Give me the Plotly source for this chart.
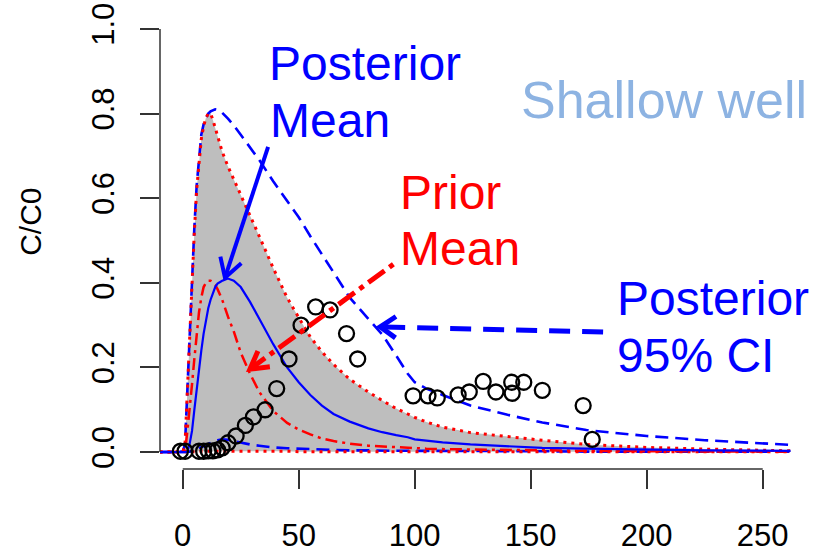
import math
import plotly.graph_objects as go

# ---- breakthrough curve data (time vs. relative concentration C/C0) ----
t_grid = [-10, 0, 1, 2, 3, 4, 5, 6, 7, 8, 9, 10, 11, 12, 13, 14, 15, 17, 19.5, 22,
          25, 29, 33, 39, 45, 50, 55, 60, 65, 72, 80, 86, 92, 97, 100, 105, 112,
          124, 140, 155, 174, 200, 225, 262]

# prior 95% interval (shaded band, red dotted bounds)
prior_upper = [0, 0, 0.02, 0.15, 0.28, 0.40, 0.52, 0.62, 0.69, 0.74, 0.77, 0.79, 0.80, 0.80,
               0.785, 0.765, 0.745, 0.71, 0.675, 0.645, 0.605, 0.56, 0.51, 0.435, 0.365, 0.318,
               0.272, 0.237, 0.207, 0.172, 0.142, 0.122, 0.103, 0.09, 0.082, 0.071, 0.059,
               0.046, 0.036, 0.028, 0.018, 0.011, 0.007, 0.003]
prior_lower = [0, 0, 0, 0, 0, 0, 0.001, 0.001, 0.002, 0.002, 0.002, 0.003, 0.003, 0.003,
               0.003, 0.003, 0.003, 0.003, 0.003, 0.003, 0.003, 0.002, 0.002, 0.002, 0.002,
               0.001, 0.001, 0.001, 0.001, 0.001, 0.001, 0.001, 0.001, 0.001, 0.001, 0.001,
               0.001, 0.001, 0.001, 0.001, 0.001, 0.001, 0.001, 0.001]
# prior mean (red dash-dot)
prior_mean = [0, 0, 0, 0.05, 0.10, 0.16, 0.22, 0.28, 0.33, 0.365, 0.39, 0.40, 0.405, 0.405,
              0.40, 0.395, 0.385, 0.36, 0.32, 0.285, 0.235, 0.185, 0.142, 0.097, 0.069, 0.053,
              0.042, 0.032, 0.026, 0.02, 0.015, 0.013, 0.011, 0.01, 0.009, 0.008, 0.007,
              0.006, 0.005, 0.004, 0.003, 0.002, 0.0015, 0.001]

# posterior mean (blue solid) and 95% interval (blue dashed)
post_mean = [0, 0, 0, 0, 0.02, 0.05, 0.10, 0.15, 0.20, 0.24, 0.28, 0.31, 0.34, 0.36, 0.375,
             0.39, 0.398, 0.405, 0.41, 0.405, 0.39, 0.355, 0.315, 0.255, 0.20, 0.165, 0.135,
             0.11, 0.09, 0.072, 0.056, 0.047, 0.04, 0.035, 0.03, 0.027, 0.023, 0.018, 0.013,
             0.01, 0.008, 0.006, 0.004, 0.003]
post_upper = [0, 0, 0.02, 0.15, 0.29, 0.42, 0.53, 0.63, 0.70, 0.75, 0.775, 0.79, 0.80, 0.805,
              0.808, 0.81, 0.809, 0.802, 0.788, 0.772, 0.75, 0.72, 0.69, 0.64, 0.595, 0.555,
              0.51, 0.468, 0.425, 0.365, 0.315, 0.278, 0.228, 0.185, 0.165, 0.15, 0.135, 0.11,
              0.088, 0.07, 0.052, 0.038, 0.028, 0.017]
post_lower = [0, 0, 0, 0, 0.001, 0.003, 0.005, 0.008, 0.01, 0.012, 0.014, 0.016, 0.019,
              0.022, 0.025, 0.027, 0.028, 0.03, 0.029, 0.026, 0.022, 0.018, 0.015, 0.011,
              0.009, 0.008, 0.007, 0.006, 0.005, 0.004, 0.004, 0.003, 0.003, 0.003, 0.003,
              0.003, 0.002, 0.002, 0.002, 0.002, 0.001, 0.001, 0.001, 0.001]

# observed concentrations in the shallow well
obs_t = [-1, 1, 7, 9, 11, 13, 15, 17, 19.5, 23, 27, 30.5, 35.5, 40.5, 45.8, 51, 57.3,
         63.5, 70.6, 75.4, 99.3, 105.7, 109.7, 118.7, 123.5, 129.5, 135, 141.8, 142,
         147, 155, 172.6, 176.5]
obs_c = [0.002, 0.002, 0.002, 0.002, 0.003, 0.003, 0.005, 0.01, 0.022, 0.038, 0.063,
         0.083, 0.1, 0.15, 0.22, 0.30, 0.343, 0.336, 0.28, 0.22, 0.133, 0.133, 0.128,
         0.135, 0.142, 0.167, 0.142, 0.165, 0.139, 0.165, 0.146, 0.11, 0.03]

x_ticks = [0, 50, 100, 150, 200, 250]
y_ticks = [0.0, 0.2, 0.4, 0.6, 0.8, 1.0]
y_tick_text = ["0.0", "0.2", "0.4", "0.6", "0.8", "1.0"]

BLUE = "#0000FF"
RED = "#FF0000"
FONT = "Liberation Sans, Arial, sans-serif"

# ---- page geometry ----
W, H = 817, 556
ML, MR, MT, MB = 160, 3, 9.5, 81.5
X_RANGE = [-9.8, 272.1]
Y_RANGE = [-0.04, 1.04]
SX = (W - ML - MR) / (X_RANGE[1] - X_RANGE[0])   # px per x unit
SY = (H - MT - MB) / (Y_RANGE[1] - Y_RANGE[0])   # px per y unit

fig = go.Figure()

# shaded prior band
fig.add_trace(go.Scatter(x=t_grid, y=prior_lower, mode="lines",
                         line=dict(width=0), hoverinfo="skip", showlegend=False))
fig.add_trace(go.Scatter(x=t_grid, y=prior_upper, mode="lines", fill="tonexty",
                         fillcolor="#BEBEBE", line=dict(width=0),
                         hoverinfo="skip", showlegend=False))

# posterior interval
for ys in (post_upper, post_lower):
    fig.add_trace(go.Scatter(x=t_grid, y=ys, mode="lines", showlegend=False,
                             line=dict(color=BLUE, width=2.6, dash="13px,7px")))
# prior interval bounds
for ys in (prior_upper, prior_lower):
    fig.add_trace(go.Scatter(x=t_grid, y=ys, mode="lines", showlegend=False,
                             line=dict(color=RED, width=3, dash="3px,5px")))
# prior mean
fig.add_trace(go.Scatter(x=t_grid, y=prior_mean, mode="lines", showlegend=False,
                         line=dict(color=RED, width=2.5, dash="3px,5px,12px,5px")))
# posterior mean
fig.add_trace(go.Scatter(x=t_grid, y=post_mean, mode="lines", showlegend=False,
                         line=dict(color=BLUE, width=2.2)))
# observations
fig.add_trace(go.Scatter(x=obs_t, y=obs_c, mode="markers", showlegend=False,
                         marker=dict(symbol="circle-open", size=15, color="black",
                                     line=dict(color="black", width=2.3))))

shapes = []
# R-style axis lines spanning only the tick range
shapes.append(dict(type="line", xref="paper", yref="y", x0=0, x1=0,
                   y0=y_ticks[0], y1=y_ticks[-1], line=dict(color="#333333", width=1.5)))
shapes.append(dict(type="line", xref="x", yref="paper", x0=x_ticks[0], x1=x_ticks[-1],
                   y0=0, y1=0, line=dict(color="#333333", width=1.5)))


def arrow(x0, y0, x1, y1, color, width, dash, head_len, head_ang=30):
    """Shaft from (x0, y0) to the tip (x1, y1) plus an open V head."""
    shapes.append(dict(type="line", xref="x", yref="y", x0=x0, y0=y0, x1=x1, y1=y1,
                       line=dict(color=color, width=width, dash=dash)))
    dx, dy = (x0 - x1) * SX, (y0 - y1) * SY
    n = math.hypot(dx, dy)
    ux, uy = dx / n, dy / n
    pts = []
    for s in (1, -1):
        a = math.radians(head_ang) * s
        rx = ux * math.cos(a) - uy * math.sin(a)
        ry = ux * math.sin(a) + uy * math.cos(a)
        pts.append((x1 + rx * head_len / SX, y1 + ry * head_len / SY))
    path = "M{:.4f},{:.5f} L{:.4f},{:.5f} L{:.4f},{:.5f}".format(
        pts[0][0], pts[0][1], x1, y1, pts[1][0], pts[1][1])
    shapes.append(dict(type="path", xref="x", yref="y", path=path,
                       line=dict(color=color, width=width)))


arrow(36.8, 0.721, 18.2, 0.412, BLUE, 4, "solid", 22)
arrow(90.8, 0.444, 29.0, 0.196, RED, 5, "5px,6px,20px,6px", 20)
arrow(181.2, 0.284, 85.1, 0.296, BLUE, 5, "21px,12px", 19, 35)

annotations = []


def label(text, x, y, color, size):
    annotations.append(dict(text=text, x=x, y=y, xref="x", yref="y", xanchor="left",
                            yanchor="middle", showarrow=False,
                            font=dict(family=FONT, size=size, color=color)))


label("Posterior", 36.2, 0.918, BLUE, 48)
label("Mean", 36.6, 0.783, BLUE, 48)
label("Shallow well", 145.0, 0.832, "#8DB3E2", 52)
label("Prior", 92.6, 0.614, RED, 48)
label("Mean", 92.6, 0.482, RED, 48)
label("Posterior", 186.4, 0.362, BLUE, 48)
label("95% CI", 186.4, 0.228, BLUE, 48)

# y-axis title
annotations.append(dict(text="C/C0", xref="paper", yref="paper",
                        x=(31 - ML) / (W - ML - MR), y=(H - MB - 223) / (H - MT - MB),
                        xanchor="center", yanchor="middle", textangle=-90,
                        showarrow=False, font=dict(family=FONT, size=30, color="black")))

fig.update_layout(
    width=W, height=H,
    margin=dict(l=ML, r=MR, t=MT, b=MB, pad=0),
    paper_bgcolor="white", plot_bgcolor="white",
    font=dict(family=FONT, color="black"),
    shapes=shapes, annotations=annotations,
    xaxis=dict(range=X_RANGE, tickvals=x_ticks, ticks="outside", ticklen=19,
               tickwidth=1.5, tickcolor="#333333", showline=False, showgrid=False,
               zeroline=False, tickfont=dict(family=FONT, size=31, color="black"),
               ticklabelstandoff=20),
    yaxis=dict(range=Y_RANGE, tickvals=y_ticks, ticktext=y_tick_text, ticks="outside",
               ticklen=19, tickwidth=1.5, tickcolor="#333333", showline=False,
               showgrid=False, zeroline=False, tickangle=-90,
               tickfont=dict(family=FONT, size=31, color="black"),
               ticklabelstandoff=14),
)

fig.write_html("out.html")
